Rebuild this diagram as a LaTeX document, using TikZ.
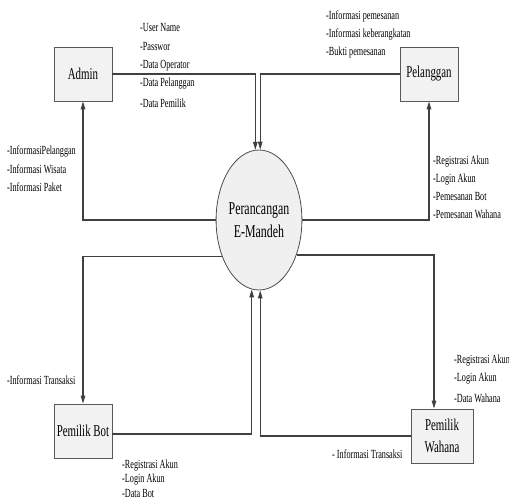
\documentclass[tikz,border=0pt]{standalone}
\usepackage{fontspec}
\setmainfont{Liberation Serif}[FakeStretch=0.66]
\usetikzlibrary{arrows.meta,shadows,calc,shapes.geometric}
\begin{document}
\begin{tikzpicture}[x=1pt,y=-1pt,
  line/.style={draw=black!75,line width=1.1pt},
  arr/.style={line,-{Triangle[length=8pt,width=4.5pt]}},
  ent/.style={draw=black!65,line width=0.8pt,fill=black!5,minimum width=58pt,minimum height=54pt,
    inner sep=1pt,align=center,font=\fontsize{16.5}{22}\selectfont,
    drop shadow={shadow xshift=1.2pt,shadow yshift=-1.2pt,opacity=0.45,fill=black!60}},
  proc/.style={ellipse,draw=black!70,line width=0.8pt,fill=black!6,minimum width=76pt,minimum height=140pt,
    inner sep=0pt,align=center,font=\fontsize{18}{23}\selectfont},
  lbl/.style={anchor=west,inner sep=0pt,font=\fontsize{12.4}{13}\selectfont}]
\useasboundingbox (0,0) rectangle (509,502);
% nodes
\node[ent] (admin) at (83,74) {Admin};
\node[ent] (pel) at (429,74) {Pelanggan};
\node[ent] (bot) at (83,431) {Pemilik Bot};
\node[ent,minimum width=62pt] (wah) at (442,436) {Pemilik\\Wahana};
\node[proc] (e) at (259,220) {Perancangan\\E-Mandeh};
% connectors
\draw[arr] (admin.east) -| (e.93.3);
\draw[arr] (pel.west) -| (e.89.2);
\draw[arr] (e.180) -| (admin.south);
\draw[arr] (e.0) -| (pel.south);
\draw[arr] (e.225.7) -| (bot.north);
\coordinate (wtop) at ($(wah.north)+(-8,0)$);
\draw[arr] (e.-43.4) -| (wtop);
\coordinate (bout) at ($(bot.east)+(0,3)$);
\draw[arr] (bout) -| (e.264.3);
\draw[arr] (wah.west) -| (e.271.6);
% labels
\node[lbl] (a1) at (140,28) {-User Name};
\node[lbl] (a2) at (140,47) {-Passwor};
\node[lbl] (a3) at (140,66) {-Data Operator};
\node[lbl] (a4) at (140,84) {-Data Pelanggan};
\node[lbl] (a5) at (140,103) {-Data Pemilik};
\node[lbl] (p1) at (326,16) {-Informasi pemesanan};
\node[lbl] (p2) at (326,34) {-Informasi keberangkatan};
\node[lbl] (p3) at (326,53) {-Bukti pemesanan};
\node[lbl] (l1) at (7,151) {-InformasiPelanggan};
\node[lbl] (l2) at (7,169) {-Informasi Wisata};
\node[lbl] (l3) at (7,187) {-Informasi Paket};
\node[lbl] (r1) at (433,162) {-Registrasi Akun};
\node[lbl] (r2) at (433,180) {-Login Akun};
\node[lbl] (r3) at (433,197) {-Pemesanan Bot};
\node[lbl] (r4) at (433,214) {-Pemesanan Wahana};
\node[lbl] (t1) at (7,380) {-Informasi Transaksi};
\node[lbl] (b1) at (122,466) {-Registrasi Akun};
\node[lbl] (b2) at (122,480) {-Login Akun};
\node[lbl] (b3) at (122,494) {-Data Bot};
\node[lbl] (w1) at (454,361) {-Registrasi Akun};
\node[lbl] (w2) at (454,379) {-Login Akun};
\node[lbl] (w3) at (454,398) {-Data Wahana};
\node[lbl] (t2) at (332,454) {- Informasi Transaksi};
\end{tikzpicture}
\end{document}
